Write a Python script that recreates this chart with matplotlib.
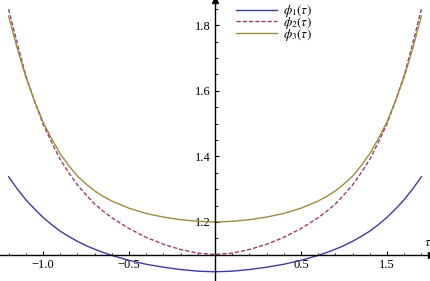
import matplotlib
matplotlib.use("Agg")
import matplotlib.pyplot as plt
from matplotlib.ticker import FixedLocator, FixedFormatter, MultipleLocator

plt.rcParams['font.family'] = ['Liberation Serif', 'DejaVu Serif']
plt.rcParams['mathtext.fontset'] = 'stix'

# values (finer steps where the curves bend fast)
tau = [-1.2, -1.15, -1.1, -1.05, -1.0, -0.95, -0.9, -0.85, -0.8, -0.75, -0.7, -0.65, -0.6,
       -0.5, -0.4, -0.3, -0.2, -0.1, 0.0, 0.1, 0.2, 0.3, 0.4, 0.5,
       0.6, 0.65, 0.7, 0.75, 0.8, 0.85, 0.9, 0.95, 1.0, 1.05, 1.1, 1.15, 1.2]
phi1 = [1.338, 1.301, 1.268, 1.240, 1.214, 1.192, 1.172, 1.156, 1.141, 1.128, 1.117, 1.107, 1.098,
        1.083, 1.071, 1.062, 1.055, 1.050, 1.048, 1.050, 1.055, 1.062, 1.071, 1.083,
        1.098, 1.107, 1.117, 1.128, 1.141, 1.156, 1.172, 1.192, 1.214, 1.240, 1.268, 1.301, 1.338]
phi2 = [1.849, 1.745, 1.647, 1.570, 1.499, 1.443, 1.391, 1.350, 1.313, 1.283, 1.255, 1.233, 1.213,
        1.180, 1.153, 1.132, 1.116, 1.105, 1.101, 1.105, 1.116, 1.132, 1.153, 1.180,
        1.213, 1.233, 1.255, 1.283, 1.313, 1.350, 1.391, 1.443, 1.499, 1.570, 1.647, 1.745, 1.849]
phi3 = [1.828, 1.730, 1.642, 1.570, 1.505, 1.454, 1.408, 1.372, 1.340, 1.316, 1.295, 1.278, 1.264,
        1.242, 1.226, 1.215, 1.207, 1.202, 1.200, 1.202, 1.207, 1.215, 1.226, 1.242,
        1.264, 1.278, 1.295, 1.316, 1.340, 1.372, 1.408, 1.454, 1.505, 1.570, 1.642, 1.730, 1.828]
labels = [r'$\phi_1(\tau)$', r'$\phi_2(\tau)$', r'$\phi_3(\tau)$']

x_ticks = [-1.0, -0.5, 0.5, 1.0]
x_ticklabels = ['\u22121.0', '\u22120.5', '0.5', '1.5']
y_ticks = [1.2, 1.4, 1.6, 1.8]
y_ticklabels = ['1.2', '1.4', '1.6', '1.8']

fig = plt.figure(figsize=(4.31, 2.81), dpi=100)
ax = fig.add_axes([0, 0, 1, 1])

ax.plot(tau, phi1, color='#3d3d99', lw=1.0, label=labels[0])
ax.plot(tau, phi2, color='#993d74', lw=1.0, ls=(0, (3, 1.5)), label=labels[1])
ax.plot(tau, phi3, color='#998d3d', lw=1.0, label=labels[2])

ax.set_xlim(-1.25, 1.256)
ax.set_ylim(1.020, 1.877)

# axes through the origin point, Mathematica style
ax.spines['left'].set_position(('data', 0))
ax.spines['bottom'].set_position(('data', 1.1))
ax.spines['top'].set_visible(False)
ax.spines['right'].set_visible(False)
for s in ['left', 'bottom']:
    ax.spines[s].set_linewidth(1.0)

ax.xaxis.set_major_locator(FixedLocator(x_ticks))
ax.xaxis.set_major_formatter(FixedFormatter(x_ticklabels))
ax.xaxis.set_minor_locator(MultipleLocator(0.1))
ax.yaxis.set_major_locator(FixedLocator(y_ticks))
ax.yaxis.set_major_formatter(FixedFormatter(y_ticklabels))
ax.yaxis.set_minor_locator(MultipleLocator(0.05))

ax.tick_params(which='major', direction='in', length=3, width=0.8, labelsize=9, pad=3)
ax.tick_params(which='minor', direction='in', length=1.8, width=0.6)
ax.tick_params(axis='y', pad=3)

# arrow heads
ax.plot(1, 1.1, '>', color='black', ms=5, transform=ax.get_yaxis_transform(), clip_on=False)
ax.plot(0, 1, '^', color='black', ms=5, transform=ax.get_xaxis_transform(), clip_on=False)
ax.text(1.235, 1.135, r'$\tau$', fontsize=9.5, ha='center', va='center')

ax.legend(loc='upper left', bbox_to_anchor=(0.535, 1.007), frameon=False, fontsize=9.5,
          handlelength=3.1, labelspacing=-0.32, handletextpad=0.45, borderaxespad=0)

fig.savefig('out.png', dpi=100)
